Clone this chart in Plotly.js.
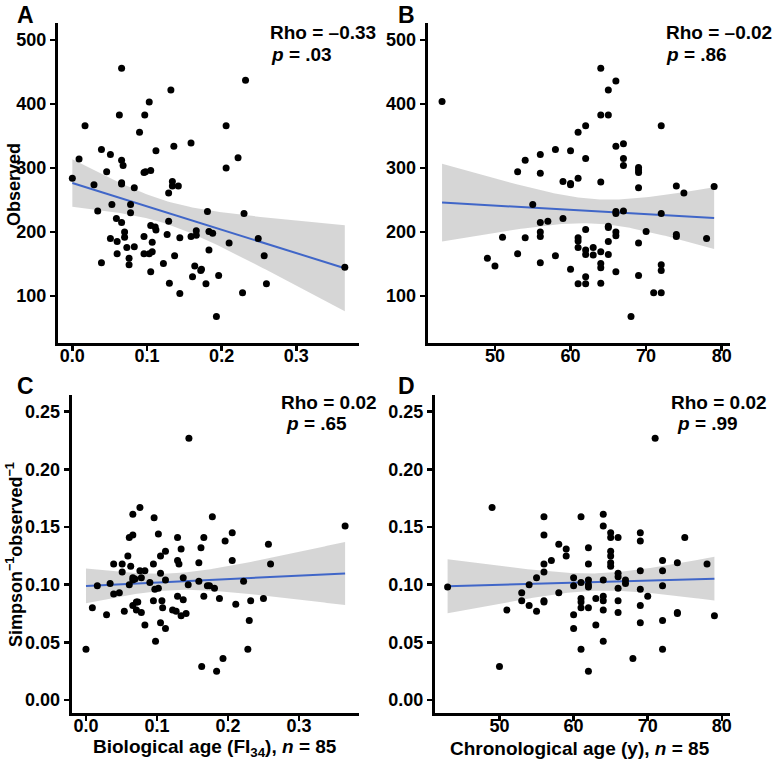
<!DOCTYPE html>
<html>
<head>
<meta charset="utf-8">
<script src="https://cdn.plot.ly/plotly-3.0.1.min.js"></script>
<style>html,body{margin:0;padding:0;background:#fff;}#chart{width:775px;height:759px;}</style>
</head>
<body>
<div id="chart"></div>
<script>
// ---------- Data ----------
// Panel A: biological age (FI34) vs observed richness
const aFI = [0.000,0.009,0.017,0.029,0.034,0.039,0.039,0.046,0.051,0.053,0.051,0.059,0.060,0.060,0.066,0.063,0.066,0.068,0.066,0.066,0.066,0.070,0.070,0.073,0.076,0.076,0.078,0.078,0.083,0.083,0.090,0.096,0.098,0.097,0.103,0.105,0.096,0.096,0.103,0.105,0.105,0.107,0.107,0.111,0.112,0.112,0.122,0.127,0.129,0.129,0.130,0.132,0.134,0.134,0.142,0.136,0.137,0.144,0.144,0.159,0.159,0.161,0.164,0.166,0.166,0.172,0.173,0.179,0.181,0.183,0.183,0.188,0.193,0.196,0.206,0.206,0.210,0.222,0.230,0.228,0.232,0.249,0.257,0.260,0.365];
const aObs = [284,314,366,274,233,329,152,294,321,243,190,221,185,166,456,383,312,304,277,275,215,200,192,176,159,149,243,230,269,177,356,293,294,383,403,296,193,166,166,138,210,184,169,208,203,327,151,196,217,261,120,422,279,272,272,334,163,191,104,339,193,130,147,202,195,140,142,119,232,172,201,198,68,132,366,300,183,316,229,105,437,190,163,119,145];

// Panel B: chronological age vs observed richness
const bAge = [43,49,50,51,53,53,54,54,55,56,56,56,56,56,56,57,58,58,59,59,60,60,60,60,61,61,61,61,61,61,62,62,62,62,62,62,62,63,63,64,64,64,64,64,64,64,65,65,65,65,65,65,66,66,66,66,66,66,66,67,67,67,67,68,69,69,69,69,69,69,70,71,72,72,72,72,72,74,74,74,75,78,79];
const bObs = [404,159,147,192,294,166,312,191,243,321,292,215,200,193,152,217,329,163,279,221,327,276,274,142,356,284,191,186,176,119,366,315,204,172,165,130,119,176,164,456,383,278,169,151,144,120,422,383,209,207,185,165,436,334,232,229,200,194,138,338,315,304,233,68,301,297,293,269,183,132,201,105,366,229,149,140,105,272,196,193,261,190,271];

// Panel C: biological age (FI34) vs Simpson^-1 / observed
const cFI = [0.000,0.009,0.016,0.029,0.034,0.039,0.039,0.047,0.051,0.051,0.054,0.059,0.061,0.066,0.066,0.076,0.061,0.063,0.066,0.066,0.069,0.066,0.071,0.073,0.071,0.076,0.078,0.083,0.078,0.083,0.090,0.096,0.095,0.095,0.097,0.102,0.098,0.102,0.105,0.105,0.105,0.107,0.108,0.112,0.112,0.112,0.122,0.127,0.129,0.129,0.131,0.129,0.134,0.137,0.137,0.134,0.141,0.145,0.144,0.159,0.159,0.162,0.163,0.166,0.166,0.171,0.174,0.178,0.181,0.184,0.188,0.193,0.196,0.206,0.206,0.211,0.222,0.228,0.230,0.232,0.250,0.257,0.260,0.365];
const cSimp = [0.044,0.080,0.099,0.074,0.101,0.118,0.092,0.093,0.118,0.111,0.077,0.125,0.141,0.143,0.161,0.167,0.100,0.116,0.106,0.104,0.105,0.082,0.085,0.085,0.078,0.112,0.106,0.112,0.076,0.065,0.102,0.158,0.118,0.086,0.096,0.097,0.051,0.144,0.125,0.110,0.067,0.086,0.080,0.129,0.104,0.062,0.078,0.077,0.141,0.121,0.118,0.090,0.131,0.106,0.087,0.073,0.075,0.227,0.100,0.119,0.103,0.132,0.029,0.141,0.090,0.099,0.099,0.159,0.097,0.025,0.088,0.036,0.138,0.145,0.121,0.083,0.103,0.044,0.069,0.086,0.088,0.135,0.118,0.151];

// Panel D: chronological age vs Simpson^-1 / observed
const dAge = [43,49,50,51,53,53,54,54,55,55,56,56,56,56,56,56,57,58,58,59,59,60,60,60,60,61,61,61,61,61,61,62,62,62,62,62,62,62,63,63,64,64,64,64,64,64,64,65,65,65,65,65,65,66,66,66,66,66,66,67,67,68,69,69,69,69,69,69,70,71,72,72,72,72,72,74,74,74,75,78,79];
const dSimp = [0.098,0.167,0.029,0.078,0.093,0.086,0.100,0.082,0.106,0.077,0.159,0.143,0.118,0.111,0.086,0.085,0.121,0.135,0.093,0.131,0.125,0.106,0.099,0.074,0.062,0.159,0.102,0.088,0.085,0.080,0.044,0.132,0.118,0.104,0.100,0.098,0.080,0.025,0.088,0.065,0.161,0.151,0.104,0.090,0.086,0.078,0.051,0.145,0.141,0.129,0.125,0.119,0.116,0.141,0.110,0.107,0.097,0.086,0.076,0.104,0.101,0.036,0.145,0.138,0.112,0.096,0.082,0.067,0.090,0.227,0.121,0.112,0.099,0.069,0.044,0.119,0.076,0.075,0.141,0.118,0.073];

// Text
const panelLetters = ['A','B','C','D'];
const rhoTexts = ['Rho = –0.33','Rho = –0.02','Rho = 0.02','Rho = 0.02'];
const pTexts = ['<i>p</i> = .03','<i>p</i> = .86','<i>p</i> = .65','<i>p</i> = .99'];
const yTitleTop = 'Observed';
const yTitleBottom = 'Simpson<sup>−1</sup>observed<sup>−1</sup>';
const xTitleLeft = 'Biological age (FI<sub>34</sub>), <i>n</i> = 85';
const xTitleRight = 'Chronological age (y), <i>n</i> = 85';
const fiTicks = [0, 0.1, 0.2, 0.3];
const ageTicks = [50, 60, 70, 80];
const obsTicks = [100, 200, 300, 400, 500];
const simpTicks = [0, 0.05, 0.10, 0.15, 0.20, 0.25];

// ---------- Linear fit with 95% confidence band (like geom_smooth(method = "lm")) ----------
function tQuant975(df) {
  const z = 1.959964;
  return z + (z*z*z + z)/(4*df) + (5*Math.pow(z,5) + 16*z*z*z + 3*z)/(96*df*df);
}
function lmBand(x, y, steps) {
  const n = x.length;
  const mx = x.reduce((s,v)=>s+v,0)/n, my = y.reduce((s,v)=>s+v,0)/n;
  let sxx = 0, sxy = 0;
  for (let i=0;i<n;i++){ sxx += (x[i]-mx)*(x[i]-mx); sxy += (x[i]-mx)*(y[i]-my); }
  const b = sxy/sxx, a = my - b*mx;
  let sse = 0;
  for (let i=0;i<n;i++){ const r = y[i]-(a+b*x[i]); sse += r*r; }
  const s = Math.sqrt(sse/(n-2)), t = tQuant975(n-2);
  const lo = Math.min(...x), hi = Math.max(...x);
  const gx = [], fit = [], low = [], up = [];
  for (let k=0;k<=steps;k++){
    const xv = lo + (hi-lo)*k/steps;
    const yh = a + b*xv;
    const se = s*Math.sqrt(1/n + (xv-mx)*(xv-mx)/sxx);
    gx.push(xv); fit.push(yh); low.push(yh - t*se); up.push(yh + t*se);
  }
  return {gx, fit, low, up};
}

const W = 775, H = 759;
const FONT = 'Liberation Sans, Arial, Helvetica, sans-serif';
const lineBlue = '#4066C8';
const ribbon = 'rgba(153,153,153,0.4)';

const panels = [
  {x: aFI, y: aObs, xa: 'x', ya: 'y'},
  {x: bAge, y: bObs, xa: 'x2', ya: 'y2'},
  {x: cFI, y: cSimp, xa: 'x3', ya: 'y3'},
  {x: dAge, y: dSimp, xa: 'x4', ya: 'y4'}
];

const traces = [];
panels.forEach(p => {
  const f = lmBand(p.x, p.y, 100);
  traces.push({x: f.gx, y: f.low, xaxis: p.xa, yaxis: p.ya, type: 'scatter', mode: 'lines',
    line: {width: 0, color: 'rgba(0,0,0,0)'}, hoverinfo: 'skip', showlegend: false});
  traces.push({x: f.gx, y: f.up, xaxis: p.xa, yaxis: p.ya, type: 'scatter', mode: 'lines',
    fill: 'tonexty', fillcolor: ribbon, line: {width: 0, color: 'rgba(0,0,0,0)'}, hoverinfo: 'skip', showlegend: false});
  traces.push({x: f.gx, y: f.fit, xaxis: p.xa, yaxis: p.ya, type: 'scatter', mode: 'lines',
    line: {width: 2, color: lineBlue}, showlegend: false});
  traces.push({x: p.x, y: p.y, xaxis: p.xa, yaxis: p.ya, type: 'scatter', mode: 'markers',
    marker: {size: 7, color: 'black'}, showlegend: false});
});

function axisBase(extra) {
  return Object.assign({
    showline: true, linecolor: 'black', linewidth: 3,
    ticks: 'outside', ticklen: 5, tickwidth: 2.5, tickcolor: 'black',
    showgrid: false, zeroline: false,
    tickfont: {family: FONT, size: 18, color: 'black', weight: 'bold'},
    fixedrange: true
  }, extra);
}
const px = v => v / W;
const py = v => 1 - v / H;
const xStand = -11;

const layout = {
  width: W, height: H,
  margin: {l: 0, r: 0, t: 0, b: 0},
  paper_bgcolor: 'white', plot_bgcolor: 'white',
  showlegend: false,
  xaxis:  axisBase({domain: [px(58), px(359)], anchor: 'y', range: [-0.0192, 0.384], tickvals: fiTicks, tickformat: '.1f', ticklabelstandoff: xStand}),
  yaxis:  axisBase({domain: [py(343), py(23)], anchor: 'x', range: [26.6, 526.6], tickvals: obsTicks}),
  xaxis2: axisBase({domain: [px(427.7), px(730)], anchor: 'y2', range: [41.1, 81.1], tickvals: ageTicks, ticklabelstandoff: xStand}),
  yaxis2: axisBase({domain: [py(343), py(23)], anchor: 'x2', range: [26.6, 526.6], tickvals: obsTicks}),
  xaxis3: axisBase({domain: [px(71.7), px(359.3)], anchor: 'y3', range: [-0.0201, 0.385], tickvals: fiTicks, tickformat: '.1f', ticklabelstandoff: xStand}),
  yaxis3: axisBase({domain: [py(713.3), py(395)], anchor: 'x3', range: [-0.0115, 0.2645], tickvals: simpTicks, tickformat: '.2f'}),
  xaxis4: axisBase({domain: [px(435), px(730)], anchor: 'y4', range: [41.3, 81.1], tickvals: ageTicks, ticklabelstandoff: xStand}),
  yaxis4: axisBase({domain: [py(713.3), py(395)], anchor: 'x4', range: [-0.0115, 0.2645], tickvals: simpTicks, tickformat: '.2f'}),
  annotations: []
};

function ann(text, x, y, opts) {
  layout.annotations.push(Object.assign({
    text: text, xref: 'paper', yref: 'paper', x: px(x), y: py(y),
    xanchor: 'left', yanchor: 'middle', showarrow: false, borderpad: 0,
    font: {family: FONT, size: 19, color: 'black', weight: 'bold'}
  }, opts || {}));
}
// Panel letters
const letterPos = [[16, 15], [397, 15], [16, 386], [397, 386]];
panelLetters.forEach((t, i) => ann(t, letterPos[i][0], letterPos[i][1], {font: {family: FONT, size: 23, color: 'black', weight: 'bold'}}));
// Stats
const rhoPos = [[269, 32.5], [665, 32.5], [280, 402.5], [670, 402.5]];
const pPos = [[270, 54], [665, 54], [285, 424], [676, 424]];
rhoTexts.forEach((t, i) => ann(t, rhoPos[i][0], rhoPos[i][1]));
pTexts.forEach((t, i) => ann(t, pPos[i][0], pPos[i][1]));
// Axis titles
ann(yTitleTop, 14, 185, {xanchor: 'center', textangle: -90, font: {family: FONT, size: 18, color: 'black', weight: 'bold'}});
ann(yTitleBottom, 14, 555, {xanchor: 'center', textangle: -90, font: {family: FONT, size: 18, color: 'black', weight: 'bold'}});
ann(xTitleLeft, 215, 748, {xanchor: 'center', font: {family: FONT, size: 19, color: 'black', weight: 'bold'}});
ann(xTitleRight, 580, 748, {xanchor: 'center', font: {family: FONT, size: 19, color: 'black', weight: 'bold'}});

Plotly.newPlot('chart', traces, layout, {staticPlot: true, displayModeBar: false});
</script>
</body>
</html>
